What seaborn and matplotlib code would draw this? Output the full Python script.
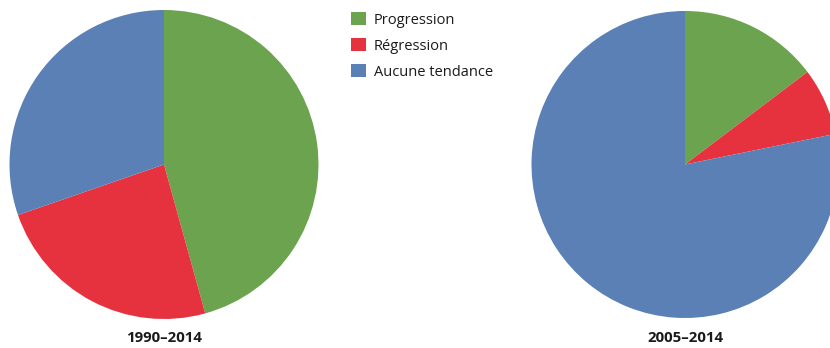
import matplotlib
matplotlib.use("Agg")
import matplotlib.pyplot as plt
from matplotlib.patches import Patch
import seaborn as sns

sns.set_theme(style="white")
plt.rcParams["font.family"] = ["Open Sans", "DejaVu Sans"]

# Share of trends per period
categories = ["Progression", "Régression", "Aucune tendance"]
period_1990_2014 = [45.7, 24.0, 30.3]
period_2005_2014 = [14.7, 7.1, 78.2]
periods = ["1990–2014", "2005–2014"]
colors = ["#6BA34F", "#E6323E", "#5A80B6"]

W, H = 830, 348
fig = plt.figure(figsize=(W / 100, H / 100), dpi=100)
fig.patch.set_facecolor("white")


def pie_axes(cx, cy, r):
    # axes box in pixel units, converted to figure fractions
    return fig.add_axes([(cx - r) / W, (H - cy - r) / H, 2 * r / W, 2 * r / H])


layout = [(164, 164.5, 154.5), (685, 164.5, 153.5)]
title_x = [164, 685]

for (cx, cy, r), values, label, tx in zip(layout, [period_1990_2014, period_2005_2014], periods, title_x):
    ax = pie_axes(cx, cy, r)
    ax.pie(values, colors=colors, startangle=90, counterclock=False,
           wedgeprops=dict(linewidth=0), radius=1)
    ax.set_xlim(-1, 1)
    ax.set_ylim(-1, 1)
    ax.set_aspect("equal")
    ax.axis("off")
    fig.text(tx / W, 1 - 338.5 / H, label, ha="center", va="center",
             fontsize=10.8, fontweight="bold", color="#1a1a1a")

handles = [Patch(facecolor=c, edgecolor="none") for c in colors]
fig.legend(handles, categories, loc="upper left",
           bbox_to_anchor=(347 / W, 1 - 8 / H), frameon=False,
           fontsize=10.5, handlelength=1.0, handleheight=1.0,
           handletextpad=0.55, labelspacing=0.72, borderaxespad=0,
           borderpad=0.3, labelcolor="#1a1a1a")

fig.savefig("out.png", dpi=100, facecolor="white")
